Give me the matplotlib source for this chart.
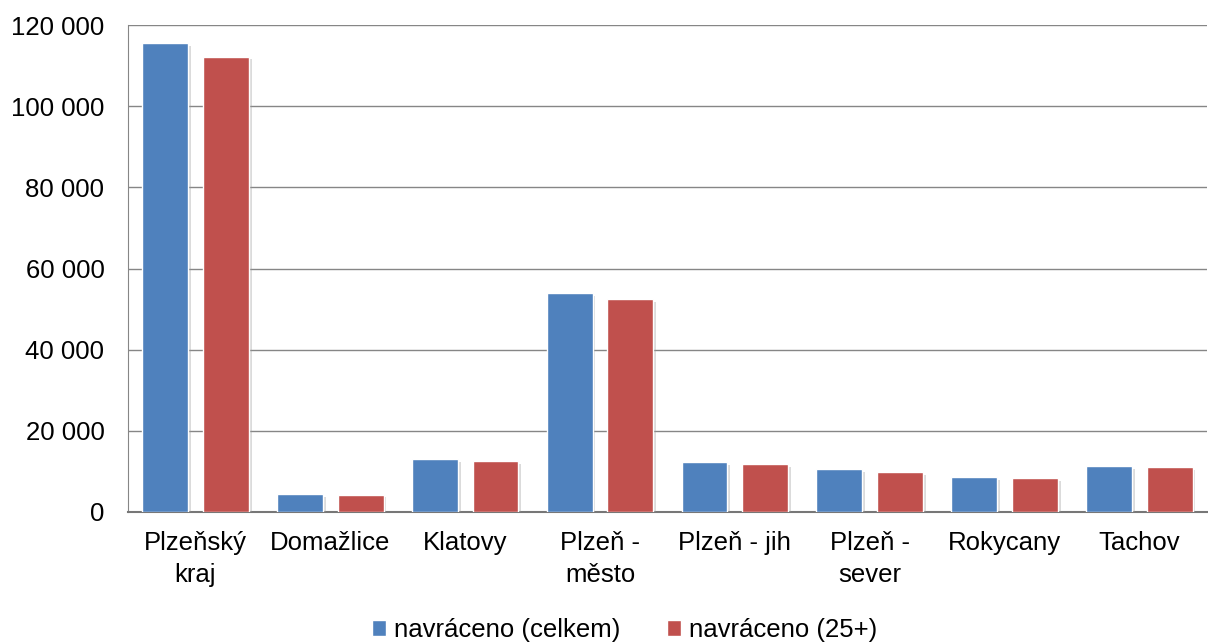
import numpy as np
import matplotlib.pyplot as plt
import matplotlib.patheffects as pe
from matplotlib.ticker import FuncFormatter

plt.rcParams['font.family'] = ['Liberation Sans', 'DejaVu Sans']

# data
okresy = ['Plzeňský\nkraj', 'Domažlice', 'Klatovy', 'Plzeň -\nměsto',
          'Plzeň - jih', 'Plzeň -\nsever', 'Rokycany', 'Tachov']
celkem = [115600, 4400, 13000, 53900, 12200, 10600, 8550, 11300]
nad25 = [112200, 4300, 12600, 52500, 11800, 9900, 8300, 11000]

fig = plt.figure(figsize=(12.08, 6.42), dpi=100)
ax = fig.add_axes([0.106, 0.2025, 0.893, 0.7585])

x = np.arange(len(okresy))
w = 0.34
shadow = [pe.SimplePatchShadow(offset=(2, -2), shadow_rgbFace='#999999', alpha=0.35), pe.Normal()]
b1 = ax.bar(x - 0.225, celkem, w, color='#4F81BD', edgecolor='white', linewidth=1,
            label='navráceno (celkem)', zorder=3)
b2 = ax.bar(x + 0.225, nad25, w, color='#C0504D', edgecolor='white', linewidth=1,
            label='navráceno (25+)', zorder=3)
for bar in list(b1) + list(b2):
    bar.set_path_effects(shadow)

ax.set_xlim(-0.5, len(okresy) - 0.5)
ax.set_ylim(0, 120000)
ax.set_yticks(np.arange(0, 120001, 20000))
ax.yaxis.set_major_formatter(FuncFormatter(lambda v, p: f'{int(v):,}'.replace(',', ' ')))
ax.yaxis.grid(True, color='#868686', linewidth=1)
ax.set_axisbelow(True)

ax.set_xticks(x)
ax.set_xticklabels(okresy, fontsize=18.5, linespacing=1.4)
ax.tick_params(axis='y', labelsize=18.5, length=0, pad=17)
ax.tick_params(axis='x', length=0, pad=14)

for s in ['top', 'right']:
    ax.spines[s].set_visible(False)
ax.spines['left'].set_color('#868686')
ax.spines['bottom'].set_color('#777777')
ax.spines['bottom'].set_linewidth(1.5)

leg = fig.legend(handles=[b1, b2], loc='center', bbox_to_anchor=(0.517, 1 - 630 / 642), ncol=2,
                 frameon=False, fontsize=18.5, handlelength=0.55, handleheight=0.55,
                 handletextpad=0.3, columnspacing=1.8)
for h in leg.legend_handles:
    h.set_path_effects([])

fig.savefig('out.png', dpi=100)
